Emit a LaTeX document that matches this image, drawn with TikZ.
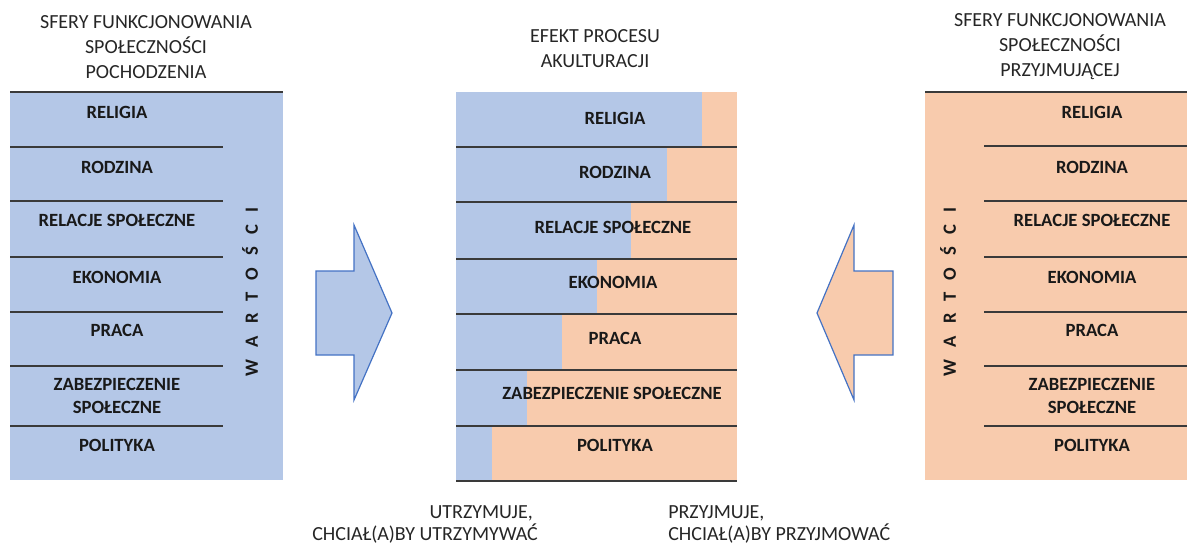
\documentclass[tikz,border=0pt]{standalone}
\usepackage{fontspec}
\setmainfont{Carlito}
\definecolor{bl}{HTML}{B4C7E7}
\definecolor{orf}{HTML}{F8CBAD}
\definecolor{edgeblue}{HTML}{4472C4}
\definecolor{sepgray}{HTML}{3A3A3A}
\newcommand{\wartosci}{W\hspace{9pt}A\hspace{9pt}R\hspace{9pt}T\hspace{9pt}O\hspace{9pt}Ś\hspace{9pt}C\hspace{9pt}I}
\begin{document}
\begin{tikzpicture}[x=0.75pt,y=-0.75pt,
  lab/.style={font=\fontsize{14}{17}\selectfont\bfseries, text=black!90, inner sep=0, align=center},
  ttl/.style={font=\fontsize{15}{18.75}\selectfont, align=center, inner sep=0, text=black!85},
  btm/.style={font=\fontsize{15}{18.75}\selectfont, inner sep=0, text=black!85},
  sepline/.style={draw=sepgray, line width=1.3pt},
  arr/.style={draw=edgeblue, line width=0.9pt, line join=miter},
  vert/.style={font=\fontsize{14}{17}\selectfont\bfseries, text=black!90, inner sep=0, rotate=90}]
\useasboundingbox (0,0) rectangle (1187,545);

% ---------- left panel ----------
\fill[bl] (10,92) rectangle (283,480);
\draw[sepline] (10,92) -- (283,92);
\foreach \y in {147,201,257,312,366,426} \draw[sepline] (10,\y) -- (223,\y);
\node[ttl] (lt) at (146,47) {SFERY FUNKCJONOWANIA\\SPOŁECZNOŚCI\\POCHODZENIA};
\node[lab] (l1) at (117,112) {RELIGIA};
\node[lab] (l2) at (117,167) {RODZINA};
\node[lab] (l3) at (117,220) {RELACJE SPOŁECZNE};
\node[lab] (l4) at (117,277) {EKONOMIA};
\node[lab] (l5) at (117,330) {PRACA};
\node[lab] (l6) at (117,396) {ZABEZPIECZENIE\\SPOŁECZNE};
\node[lab] (l7) at (117,445) {POLITYKA};
\node[vert] (lw) at (250,292) {\wartosci};

% ---------- center panel ----------
\foreach \t/\b/\s in {92/147/702,147/202/667,202/259/631,259/314/597,314/370/562,370/426/527,426/481/492}{
  \fill[bl] (456,\t) rectangle (\s,\b);
  \fill[orf] (\s,\t) rectangle (737,\b);
}
\foreach \y in {147,202,259,314,370,426,481} \draw[sepline] (456,\y) -- (737,\y);
\node[ttl] (ct) at (595,49) {EFEKT PROCESU\\AKULTURACJI};
\node[lab] (c1) at (615,118) {RELIGIA};
\node[lab] (c2) at (615,172) {RODZINA};
\node[lab] (c3) at (613,227) {RELACJE SPOŁECZNE};
\node[lab] (c4) at (613,282) {EKONOMIA};
\node[lab] (c5) at (615,338) {PRACA};
\node[lab] (c6) at (612,393) {ZABEZPIECZENIE SPOŁECZNE};
\node[lab] (c7) at (615,445) {POLITYKA};

% ---------- right panel ----------
\fill[orf] (925,92) rectangle (1187,480);
\draw[sepline] (925,92) -- (1187,92);
\foreach \y in {146,201,257,312,366,426} \draw[sepline] (984,\y) -- (1187,\y);
\node[ttl] (rt) at (1060,47) {SFERY FUNKCJONOWANIA\\SPOŁECZNOŚCI\\PRZYJMUJĄCEJ};
\node[lab] (r1) at (1092,112) {RELIGIA};
\node[lab] (r2) at (1092,167) {RODZINA};
\node[lab] (r3) at (1092,220) {RELACJE SPOŁECZNE};
\node[lab] (r4) at (1092,277) {EKONOMIA};
\node[lab] (r5) at (1092,330) {PRACA};
\node[lab] (r6) at (1092,396) {ZABEZPIECZENIE\\SPOŁECZNE};
\node[lab] (r7) at (1092,445) {POLITYKA};
\node[vert] (rw) at (948,292) {\wartosci};

% ---------- arrows ----------
\draw[arr, fill=bl] (316,271) -- (354,271) -- (354,225) -- (392,313) -- (354,400) -- (354,355) -- (316,355) -- cycle;
\draw[arr, fill=orf] (893,271) -- (854,271) -- (854,225) -- (817,313) -- (854,400) -- (854,355) -- (893,355) -- cycle;

% ---------- bottom texts ----------
\node[btm, anchor=base east] (b1) at (533,518) {UTRZYMUJE,};
\node[btm, anchor=base west] (b2) at (312,540.5) {CHCIAŁ(A)BY UTRZYMYWAĆ};
\node[btm, anchor=base west] (b3) at (668,518) {PRZYJMUJE,};
\node[btm, anchor=base west] (b4) at (668,540.5) {CHCIAŁ(A)BY PRZYJMOWAĆ};
\end{tikzpicture}
\end{document}
